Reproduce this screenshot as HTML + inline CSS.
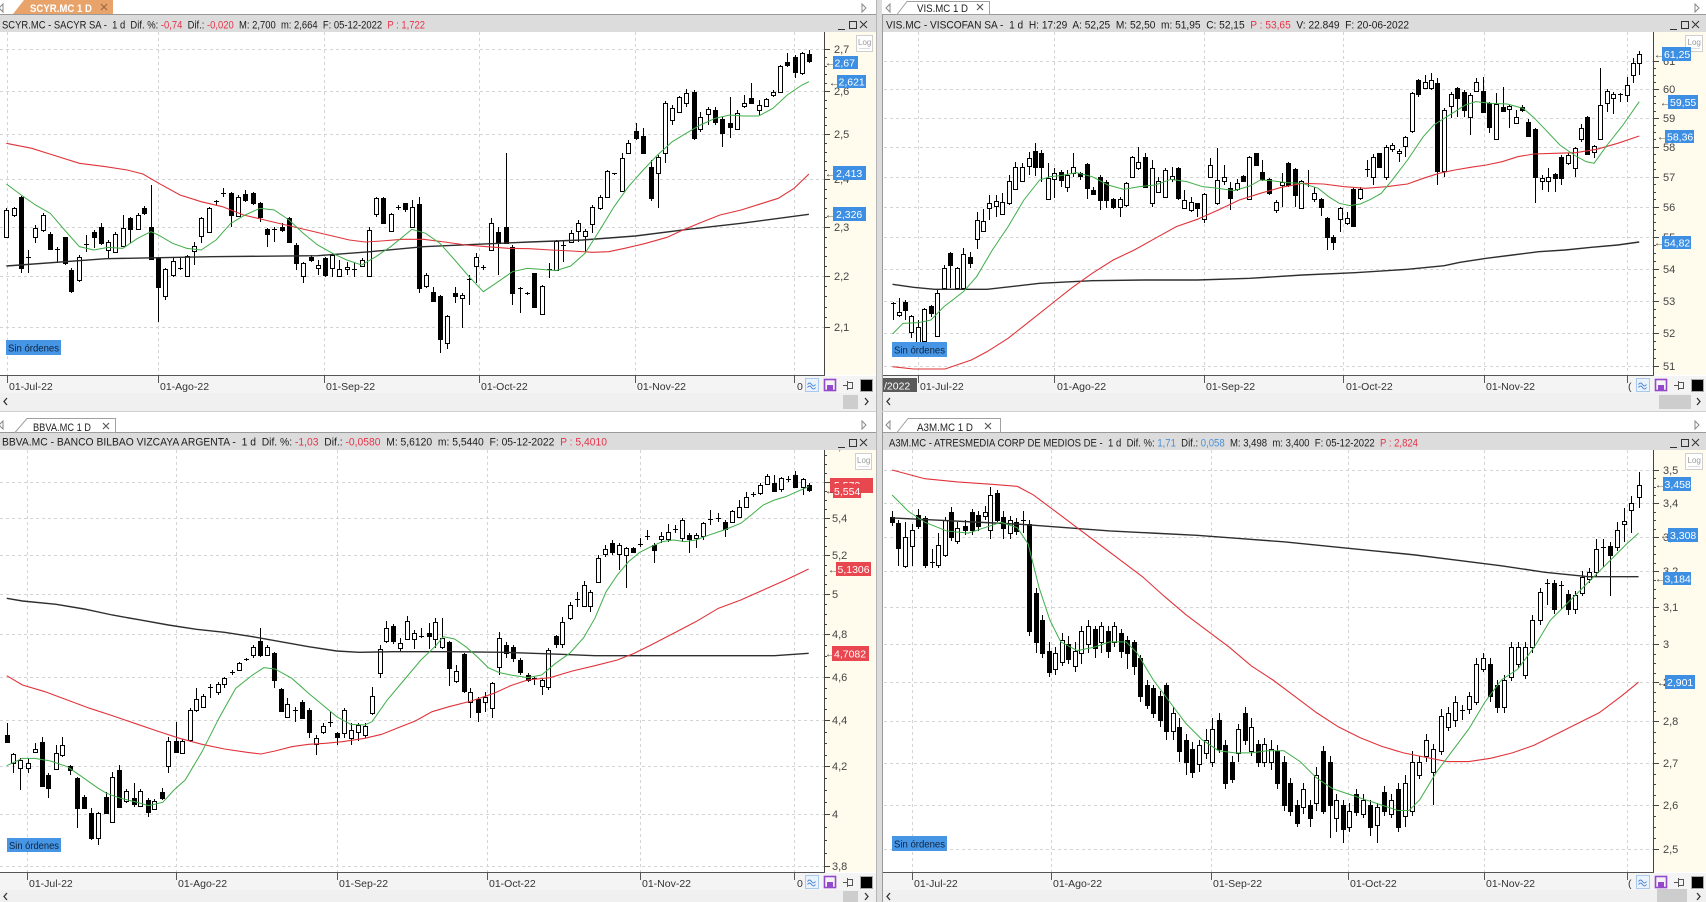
<!DOCTYPE html>
<html><head><meta charset="utf-8">
<style>
html,body{margin:0;padding:0;background:#fff;}
svg{display:block;font-family:"Liberation Sans",Arial,sans-serif;}
.t{font-size:11px;fill:#1c1c1c;white-space:pre;}
.ax{font-size:11px;fill:#444;}
.dt{font-size:10.5px;fill:#333;}
.tag{font-size:10.5px;fill:#fff;}
.arr{font-size:10px;fill:#333;}
.tab{font-size:11px;fill:#222;}
.so{font-size:10px;fill:#0f2440;}
.lg{font-size:8px;fill:#9a9a9a;}
</style></head><body>
<svg id="s" width="1706" height="902" viewBox="0 0 1706 902" xmlns="http://www.w3.org/2000/svg">
<defs>
<clipPath id="cTL"><rect x="0" y="32" width="824" height="343"/></clipPath>
<clipPath id="cTR"><rect x="884" y="32" width="769" height="343"/></clipPath>
<clipPath id="cBL"><rect x="0" y="450" width="824" height="422"/></clipPath>
<clipPath id="cBR"><rect x="884" y="450" width="769" height="422"/></clipPath>
<clipPath id="aBL"><rect x="824" y="450" width="52" height="422"/></clipPath>
</defs>
<rect x="0" y="0" width="1706" height="902" fill="#fff"/>

<!-- separator -->
<rect x="876" y="0" width="6" height="902" fill="#dcdcdc"/>
<line x1="876.5" y1="0" x2="876.5" y2="902" stroke="#b4b4b4"/>
<line x1="882.5" y1="14" x2="882.5" y2="902" stroke="#9a9a9a"/>

<!-- top tab strips -->
<line x1="0" y1="14.5" x2="876" y2="14.5" stroke="#9a9a9a"/>
<line x1="882" y1="14.5" x2="1706" y2="14.5" stroke="#9a9a9a"/>
<polygon points="13,14 24,0 113,0 113,14" fill="#e8a36b"/>
<text x="30" y="12" font-size="11" font-weight="bold" fill="#fff" textLength="62" lengthAdjust="spacingAndGlyphs">SCYR.MC 1 D</text>
<path d="M101 4l6 6M107 4l-6 6" stroke="#9c6a45" stroke-width="1.2"/>
<polygon points="897,14.5 907,1.5 989.5,1.5 989.5,14.5" fill="#fff" stroke="#a0a0a0"/>
<text x="917" y="12" class="tab" textLength="51" lengthAdjust="spacingAndGlyphs">VIS.MC 1 D</text>
<path d="M977 4l6 6M983 4l-6 6" stroke="#555" stroke-width="1.1"/>
<path d="M3 4v8l-4-4z" fill="none" stroke="#888"/>
<path d="M862 4v8l4-4z" fill="none" stroke="#888"/>
<path d="M890 4v8l-4-4z" fill="none" stroke="#888"/>
<path d="M1695 4v8l4-4z" fill="none" stroke="#888"/>

<!-- top title bars -->
<rect x="0" y="15" width="876" height="17" fill="#dcdcdc"/>
<rect x="883" y="15" width="823" height="17" fill="#dcdcdc"/>
<text x="2" y="28.5" class="t" textLength="423" lengthAdjust="spacingAndGlyphs">SCYR.MC - SACYR SA -  1 d  Dif. %: <tspan fill="#e8334a">-0,74</tspan>  Dif.: <tspan fill="#e8334a">-0,020</tspan>  M: 2,700  m: 2,664  F: 05-12-2022  <tspan fill="#e8334a">P : 1,722</tspan></text>
<text x="886" y="28.5" class="t" textLength="523" lengthAdjust="spacingAndGlyphs">VIS.MC - VISCOFAN SA -  1 d  H: 17:29  A: 52,25  M: 52,50  m: 51,95  C: 52,15  <tspan fill="#e8334a">P : 53,65</tspan>  V: 22.849  F: 20-06-2022</text>
<path d="M838 29.5h7M849.5 21.5h7v7h-7zM860 21l7 7M867 21l-7 7" stroke="#333" fill="none"/>
<path d="M1670 29.5h7M1681.5 21.5h7v7h-7zM1692 21l7 7M1699 21l-7 7" stroke="#333" fill="none"/>

<!-- bottom tab strips -->
<line x1="0" y1="411.5" x2="876" y2="411.5" stroke="#d0d0d0"/>
<line x1="882" y1="411.5" x2="1706" y2="411.5" stroke="#d0d0d0"/>
<line x1="0" y1="432.5" x2="876" y2="432.5" stroke="#9a9a9a"/>
<line x1="882" y1="432.5" x2="1706" y2="432.5" stroke="#9a9a9a"/>
<polygon points="15,432.5 27,418.5 115.5,418.5 115.5,432.5" fill="#fff" stroke="#a0a0a0"/>
<text x="33" y="431" class="tab" textLength="58" lengthAdjust="spacingAndGlyphs">BBVA.MC 1 D</text>
<path d="M103 423l6 6M109 423l-6 6" stroke="#555" stroke-width="1.1"/>
<polygon points="897,432.5 908,418.5 1000.5,418.5 1000.5,432.5" fill="#fff" stroke="#a0a0a0"/>
<text x="917" y="431" class="tab" textLength="56" lengthAdjust="spacingAndGlyphs">A3M.MC 1 D</text>
<path d="M985 423l6 6M991 423l-6 6" stroke="#555" stroke-width="1.1"/>
<path d="M3 421v8l-4-4z" fill="none" stroke="#888"/>
<path d="M862 421v8l4-4z" fill="none" stroke="#888"/>
<path d="M890 421v8l-4-4z" fill="none" stroke="#888"/>
<path d="M1695 421v8l4-4z" fill="none" stroke="#888"/>

<!-- bottom title bars -->
<rect x="0" y="433" width="876" height="17" fill="#dcdcdc"/>
<rect x="883" y="433" width="823" height="17" fill="#dcdcdc"/>
<text x="2" y="445.5" class="t" textLength="605" lengthAdjust="spacingAndGlyphs">BBVA.MC - BANCO BILBAO VIZCAYA ARGENTA -  1 d  Dif. %: <tspan fill="#e8334a">-1,03</tspan>  Dif.: <tspan fill="#e8334a">-0,0580</tspan>  M: 5,6120  m: 5,5440  F: 05-12-2022  <tspan fill="#e8334a">P : 5,4010</tspan></text>
<text x="889" y="446.5" class="t" textLength="529" lengthAdjust="spacingAndGlyphs">A3M.MC - ATRESMEDIA CORP DE MEDIOS DE -  1 d  Dif. %: <tspan fill="#4a90d9">1,71</tspan>  Dif.: <tspan fill="#4a90d9">0,058</tspan>  M: 3,498  m: 3,400  F: 05-12-2022  <tspan fill="#e8334a">P : 2,824</tspan></text>
<path d="M838 447.5h7M849.5 439.5h7v7h-7zM860 439l7 7M867 439l-7 7" stroke="#333" fill="none"/>
<path d="M1670 447.5h7M1681.5 439.5h7v7h-7zM1692 439l7 7M1699 439l-7 7" stroke="#333" fill="none"/>

<!-- axis panels -->
<rect x="824" y="32" width="52" height="343" fill="#fffbed"/>
<rect x="1653" y="32" width="53" height="343" fill="#fffbed"/>
<rect x="824" y="450" width="52" height="422" fill="#fffbed"/>
<rect x="1653" y="450" width="53" height="422" fill="#fffbed"/>

<!-- date rows & scroll rows -->
<rect x="0" y="376" width="876" height="17" fill="#f4f4f4"/>
<rect x="883" y="376" width="823" height="17" fill="#f4f4f4"/>
<rect x="0" y="393" width="876" height="18" fill="#f0f0f0"/>
<rect x="883" y="393" width="823" height="18" fill="#f0f0f0"/>
<rect x="0" y="873" width="876" height="17" fill="#f4f4f4"/>
<rect x="883" y="873" width="823" height="17" fill="#f4f4f4"/>
<rect x="0" y="890" width="876" height="12" fill="#f0f0f0"/>
<rect x="883" y="890" width="823" height="12" fill="#f0f0f0"/>
<rect x="843" y="395" width="15" height="14" fill="#cdcdcd"/>
<rect x="1659" y="395" width="32" height="14" fill="#cdcdcd"/>
<rect x="843" y="891" width="15" height="11" fill="#cdcdcd"/>
<rect x="1657" y="889" width="30" height="13" fill="#cdcdcd"/>
<path d="M7 398l-3 3.5 3 3.5" stroke="#333" fill="none" stroke-width="1.3"/>
<path d="M865 398l3 3.5-3 3.5" stroke="#333" fill="none" stroke-width="1.3"/>
<path d="M890 398l-3 3.5 3 3.5" stroke="#333" fill="none" stroke-width="1.3"/>
<path d="M1697 398l3 3.5-3 3.5" stroke="#333" fill="none" stroke-width="1.3"/>
<path d="M7 893l-3 3.5 3 3.5" stroke="#333" fill="none" stroke-width="1.3"/>
<path d="M865 893l3 3.5-3 3.5" stroke="#333" fill="none" stroke-width="1.3"/>
<path d="M890 893l-3 3.5 3 3.5" stroke="#333" fill="none" stroke-width="1.3"/>
<path d="M1697 893l3 3.5-3 3.5" stroke="#333" fill="none" stroke-width="1.3"/>

<!-- grids (JS) -->
<g id="grids"></g>

<!-- charts -->
<g clip-path="url(#cTL)">
  <g id="kTL"></g>
  <g transform="matrix(0.5294 0 0 0.33333 0 30)" fill="none">
    <polyline vector-effect="non-scaling-stroke" stroke="#2e2e2e" stroke-width="1.4" points="12,708 200,686 400,680 600,677 700,665 800,650 900,643 1000,636 1100,630 1200,618 1300,598 1400,580 1528,553"/>
    <polyline vector-effect="non-scaling-stroke" stroke="#e0333a" stroke-width="1.1" points="12,340 60,355 100,375 150,400 200,410 240,420 270,432 300,460 340,495 380,515 420,530 460,555 500,570 540,585 580,600 620,615 660,630 690,636 720,633 760,628 800,628 840,636 880,645 920,650 960,655 1000,656 1040,660 1080,663 1120,667 1150,665 1180,655 1220,640 1260,622 1290,600 1320,580 1360,555 1400,540 1440,520 1470,505 1500,475 1528,432"/>
    <polyline vector-effect="non-scaling-stroke" stroke="#3fae49" stroke-width="1" points="12,462 40,495 67,525 95,550 122,600 150,650 177,660 204,652 232,655 260,625 285,605 299,615 326,640 353,655 380,660 408,630 436,580 463,555 491,535 518,540 546,570 573,610 600,645 628,670 655,690 683,705 710,680 738,650 765,615 778,598 804,610 831,640 859,690 886,740 913,785 941,755 968,725 996,715 1023,718 1050,722 1078,708 1105,670 1133,600 1160,530 1187,470 1215,420 1242,375 1270,335 1296,310 1323,285 1351,265 1378,255 1405,258 1433,258 1460,235 1487,195 1515,165 1528,155"/>
  </g>
</g>
<g clip-path="url(#cTR)">
  <g id="kTR"></g>
  <g transform="matrix(0.5255 0 0 0.33333 882 30)" fill="none">
    <polyline vector-effect="non-scaling-stroke" stroke="#2e2e2e" stroke-width="1.4" points="20,763 60,772 100,778 200,778 300,760 400,752 500,750 600,750 700,745 800,735 900,728 1000,718 1070,707 1100,697 1150,685 1200,675 1250,665 1300,660 1350,652 1400,645 1441,636"/>
    <polyline vector-effect="non-scaling-stroke" stroke="#e0333a" stroke-width="1.1" points="20,1010 60,1017 120,1017 170,990 200,965 240,925 280,875 320,825 360,775 400,730 440,690 480,660 520,625 560,590 600,568 640,540 680,510 720,490 760,472 800,460 840,462 880,470 920,475 960,470 1000,462 1030,445 1060,430 1090,420 1120,412 1150,405 1180,395 1210,380 1240,372 1280,370 1320,368 1360,358 1400,340 1441,318"/>
    <polyline vector-effect="non-scaling-stroke" stroke="#3fae49" stroke-width="1" points="20,912 40,880 70,878 93,870 118,830 155,785 180,740 210,660 240,590 270,510 300,450 320,440 340,437 370,428 400,440 430,465 460,478 490,470 520,465 550,448 580,455 610,470 640,475 670,482 700,468 720,450 740,452 770,458 800,460 830,475 850,500 870,520 890,527 910,522 930,508 950,490 970,452 1000,390 1030,320 1050,285 1070,265 1090,245 1110,225 1130,215 1160,220 1190,222 1220,235 1240,262 1260,295 1290,345 1320,378 1340,395 1355,400 1380,345 1410,285 1441,215"/>
  </g>
</g>
<g clip-path="url(#cBL)">
  <g id="kBL"></g>
  <g transform="matrix(0.5612 0 0 0.33333 0 445)" fill="none">
    <polyline vector-effect="non-scaling-stroke" stroke="#2e2e2e" stroke-width="1.4" points="12,460 40,468 100,478 150,492 200,510 250,525 300,540 350,553 400,562 450,575 500,590 550,605 600,618 640,622 700,620 800,620 900,622 1000,628 1060,632 1200,632 1300,632 1380,632 1441,625"/>
    <polyline vector-effect="non-scaling-stroke" stroke="#e0333a" stroke-width="1.1" points="12,692 40,720 80,740 120,765 160,790 200,812 240,835 280,858 320,880 360,898 400,912 440,922 465,927 490,918 520,905 550,898 580,895 610,890 650,880 680,868 710,848 740,828 770,800 800,785 840,768 880,745 910,722 940,705 980,698 1020,678 1060,662 1100,645 1130,625 1160,600 1200,565 1240,530 1280,490 1320,465 1360,435 1400,405 1441,372"/>
    <polyline vector-effect="non-scaling-stroke" stroke="#3fae49" stroke-width="1" points="12,962 40,940 62,940 90,948 120,965 150,1000 175,1030 190,1045 215,1060 240,1070 265,1082 290,1072 310,1035 330,1005 360,920 390,820 420,730 450,690 470,668 490,672 520,700 550,745 575,780 600,815 625,838 650,840 663,830 690,765 720,705 750,645 775,605 790,575 810,582 830,605 850,635 870,668 890,683 910,690 940,698 965,690 990,655 1015,625 1040,578 1060,520 1080,440 1100,390 1120,350 1140,322 1160,305 1180,290 1200,285 1220,290 1240,285 1260,272 1290,255 1320,235 1340,208 1360,180 1380,165 1400,155 1420,140 1441,125"/>
  </g>
</g>
<g clip-path="url(#cBR)">
  <g id="kBR"></g>
  <g transform="matrix(1.088 0 0 1.088 0 0)" fill="none">
    <polyline vector-effect="non-scaling-stroke" stroke="#2e2e2e" stroke-width="1.4" points="820,476 860,478 900,480 940,482 980,485 1020,488 1060,490 1100,492 1140,495 1180,498 1220,502 1260,506 1300,510 1340,515 1380,520 1420,526 1460,530 1506,530"/>
    <polyline vector-effect="non-scaling-stroke" stroke="#e0333a" stroke-width="1.1" points="820,432 850,440 880,443 910,445 935,447 950,455 970,470 990,485 1010,500 1030,515 1050,530 1070,548 1090,565 1110,580 1130,595 1150,612 1170,625 1190,640 1210,655 1230,668 1250,678 1270,686 1290,692 1310,696 1330,700 1350,700 1370,697 1390,692 1410,685 1430,675 1450,665 1470,655 1490,640 1506,627"/>
    <polyline vector-effect="non-scaling-stroke" stroke="#3fae49" stroke-width="1" points="820,455 835,470 850,480 870,488 890,490 905,485 920,480 935,485 945,500 955,540 965,570 975,590 990,598 1005,595 1020,590 1035,590 1045,600 1060,625 1075,645 1090,665 1105,680 1120,690 1135,692 1150,692 1165,690 1180,690 1195,700 1210,715 1225,725 1240,730 1255,735 1270,740 1285,745 1295,745 1305,735 1320,710 1335,690 1350,670 1365,645 1380,625 1395,615 1410,595 1425,570 1440,555 1455,540 1470,525 1485,510 1495,500 1506,490"/>
  </g>
</g>

<!-- axis ticks (JS) -->
<g id="ticks"></g>

<!-- axis lines -->
<line x1="824.5" y1="32" x2="824.5" y2="376" stroke="#444"/>
<line x1="1653.5" y1="32" x2="1653.5" y2="376" stroke="#444"/>
<line x1="824.5" y1="450" x2="824.5" y2="873" stroke="#444"/>
<line x1="1653.5" y1="450" x2="1653.5" y2="873" stroke="#444"/>
<line x1="0" y1="375.5" x2="825" y2="375.5" stroke="#555"/>
<line x1="883" y1="375.5" x2="1654" y2="375.5" stroke="#555"/>
<line x1="0" y1="872.5" x2="825" y2="872.5" stroke="#555"/>
<line x1="883" y1="872.5" x2="1654" y2="872.5" stroke="#555"/>

<!-- y labels -->
<g class="ax">
<text x="834" y="53">2,7</text><text x="834" y="95">2,6</text><text x="834" y="138">2,5</text><text x="834" y="183">2,4</text><text x="834" y="231">2,3</text><text x="834" y="280">2,2</text><text x="834" y="331">2,1</text>
<text x="1663" y="65">61</text><text x="1663" y="93">60</text><text x="1663" y="122">59</text><text x="1663" y="151">58</text><text x="1663" y="181">57</text><text x="1663" y="211">56</text><text x="1663" y="241">55</text><text x="1663" y="273">54</text><text x="1663" y="305">53</text><text x="1663" y="337">52</text><text x="1663" y="370">51</text>
<g clip-path="url(#aBL)"><text x="832" y="450">5,8</text></g>
<text x="832" y="486">5,6</text><text x="832" y="522">5,4</text><text x="832" y="559">5,2</text><text x="832" y="598">5</text><text x="832" y="638">4,8</text><text x="832" y="681">4,6</text><text x="832" y="724">4,4</text><text x="832" y="770">4,2</text><text x="832" y="818">4</text><text x="832" y="870">3,8</text>
<text x="1663" y="474">3,5</text><text x="1663" y="507">3,4</text><text x="1663" y="541">3,3</text><text x="1663" y="575">3,2</text><text x="1663" y="611">3,1</text><text x="1663" y="648">3</text><text x="1663" y="686">2,9</text><text x="1663" y="725">2,8</text><text x="1663" y="767">2,7</text><text x="1663" y="809">2,6</text><text x="1663" y="853">2,5</text>
</g>

<!-- Log buttons -->
<g>
<rect x="856.5" y="35.5" width="16" height="16" fill="#fff" stroke="#cfcfcf"/><text x="858" y="45" class="lg">Log</text><line x1="859" y1="48.5" x2="870" y2="48.5" stroke="#ddd"/>
<rect x="1685.5" y="35.5" width="17" height="16" fill="#fff" stroke="#cfcfcf"/><text x="1687.5" y="45" class="lg">Log</text><line x1="1688" y1="48.5" x2="1700" y2="48.5" stroke="#ddd"/>
<rect x="855.5" y="453.5" width="16" height="16" fill="#fff" stroke="#cfcfcf"/><text x="857" y="463" class="lg">Log</text><line x1="858" y1="466.5" x2="869" y2="466.5" stroke="#ddd"/>
<rect x="1685.5" y="453.5" width="17" height="16" fill="#fff" stroke="#cfcfcf"/><text x="1687.5" y="463" class="lg">Log</text><line x1="1688" y1="466.5" x2="1700" y2="466.5" stroke="#ddd"/>
</g>

<!-- price tags -->
<g>
<text x="825" y="66" class="arr">←</text><rect x="833" y="56" width="25" height="13" fill="#3d8fe3"/><text x="834.5" y="66.5" class="tag">2,67</text>
<text x="829" y="86" class="arr">←</text><rect x="837" y="75" width="29" height="13" fill="#3d8fe3"/><text x="838.5" y="85.5" class="tag">2,621</text>
<text x="825" y="177" class="arr">←</text><rect x="833" y="166" width="33" height="14" fill="#3d8fe3"/><text x="836" y="177" class="tag">2,413</text>
<text x="825" y="218" class="arr">←</text><rect x="833" y="207" width="33" height="14" fill="#3d8fe3"/><text x="836" y="218" class="tag">2,326</text>

<text x="1654" y="58" class="arr">←</text><rect x="1662" y="47" width="29" height="14" fill="#3d8fe3"/><text x="1664" y="58" class="tag">61,25</text>
<text x="1660" y="106" class="arr">←</text><rect x="1668" y="95" width="30" height="14" fill="#3d8fe3"/><text x="1670" y="106" class="tag">59,55</text>
<text x="1657" y="140" class="arr">←</text><rect x="1665" y="130" width="29" height="13" fill="#3d8fe3"/><text x="1667" y="140.5" class="tag">58,36</text>
<text x="1654" y="246" class="arr">←</text><rect x="1662" y="236" width="29" height="13" fill="#3d8fe3"/><text x="1664" y="246.5" class="tag">54,82</text>

<rect x="830" y="478" width="43" height="15" fill="#e8474f"/><text x="834" y="489" class="tag">5,573</text>
<text x="825" y="494" class="arr">←</text><rect x="833" y="484" width="28" height="14" fill="#e8474f"/><text x="834" y="495" class="tag">5,554</text>
<text x="828" y="573" class="arr">←</text><rect x="836" y="562" width="35" height="14" fill="#e8474f"/><text x="837.5" y="573" class="tag">5,1306</text>
<text x="825" y="657" class="arr">←</text><rect x="832" y="646" width="37" height="15" fill="#e8474f"/><text x="834" y="657.5" class="tag">4,7082</text>

<text x="1655" y="488" class="arr">←</text><rect x="1663" y="477" width="28" height="14" fill="#3d8fe3"/><text x="1664.5" y="488" class="tag">3,458</text>
<text x="1660" y="539" class="arr">←</text><rect x="1668" y="528" width="30" height="14" fill="#3d8fe3"/><text x="1670" y="539" class="tag">3,308</text>
<text x="1655" y="582" class="arr">←</text><rect x="1663" y="572" width="28" height="13" fill="#3d8fe3"/><text x="1664.5" y="582.5" class="tag">3,184</text>
<text x="1657" y="686" class="arr">←</text><rect x="1665" y="675" width="30" height="14" fill="#3d8fe3"/><text x="1667" y="686" class="tag">2,901</text>
</g>

<!-- Sin órdenes badges -->
<rect x="6" y="340" width="55" height="15" fill="#4696e5"/><text x="8" y="351.5" class="so" textLength="51" lengthAdjust="spacingAndGlyphs">Sin órdenes</text>
<rect x="892" y="342" width="55" height="15" fill="#4696e5"/><text x="894" y="353.5" class="so" textLength="51" lengthAdjust="spacingAndGlyphs">Sin órdenes</text>
<rect x="7" y="838" width="54" height="14" fill="#4696e5"/><text x="9" y="849" class="so" textLength="50" lengthAdjust="spacingAndGlyphs">Sin órdenes</text>
<rect x="892" y="836" width="55" height="15" fill="#4696e5"/><text x="894" y="847.5" class="so" textLength="51" lengthAdjust="spacingAndGlyphs">Sin órdenes</text>

<!-- date labels -->
<g class="dt">
<text x="9" y="390">01-Jul-22</text><text x="160" y="390">01-Ago-22</text><text x="326" y="390">01-Sep-22</text><text x="481" y="390">01-Oct-22</text><text x="637" y="390">01-Nov-22</text>
<rect x="883" y="378" width="34" height="14" fill="#5a5a5a"/><text x="884" y="389.5" fill="#fff" style="fill:#fff">/2022</text>
<text x="920" y="390">01-Jul-22</text><text x="1057" y="390">01-Ago-22</text><text x="1206" y="390">01-Sep-22</text><text x="1346" y="390">01-Oct-22</text><text x="1486" y="390">01-Nov-22</text>
<text x="29" y="887">01-Jul-22</text><text x="178" y="887">01-Ago-22</text><text x="339" y="887">01-Sep-22</text><text x="489" y="887">01-Oct-22</text><text x="642" y="887">01-Nov-22</text>
<text x="914" y="887">01-Jul-22</text><text x="1053" y="887">01-Ago-22</text><text x="1213" y="887">01-Sep-22</text><text x="1350" y="887">01-Oct-22</text><text x="1486" y="887">01-Nov-22</text>
</g>

<!-- bottom-right icons -->
<g transform="translate(797,378)">
<text x="0" y="12" class="dt">0</text>
<rect x="8.5" y="0.5" width="13" height="13" fill="#eaf3fd" stroke="#a8c8ec"/>
<path d="M10.5 6.5q2-3 4 0t4 0M10.5 9.5q2-3 4 0t4 0" stroke="#4d86cf" fill="none"/>
<rect x="27.5" y="1.5" width="11" height="11" fill="none" stroke="#9448cc" stroke-width="1.6"/><rect x="30" y="7" width="6" height="5" fill="#9448cc"/>
<path d="M46 7.5h4M50.5 3v9M50.5 4.5h5v6h-5" stroke="#555" fill="none"/>
<rect x="63.5" y="1.5" width="12" height="12" fill="#000" stroke="#aaa"/>
</g>
<g transform="translate(1628,378)">
<text x="0" y="12" class="dt">(</text>
<rect x="8.5" y="0.5" width="13" height="13" fill="#eaf3fd" stroke="#a8c8ec"/>
<path d="M10.5 6.5q2-3 4 0t4 0M10.5 9.5q2-3 4 0t4 0" stroke="#4d86cf" fill="none"/>
<rect x="27.5" y="1.5" width="11" height="11" fill="none" stroke="#9448cc" stroke-width="1.6"/><rect x="30" y="7" width="6" height="5" fill="#9448cc"/>
<path d="M46 7.5h4M50.5 3v9M50.5 4.5h5v6h-5" stroke="#555" fill="none"/>
<rect x="63.5" y="1.5" width="12" height="12" fill="#000" stroke="#aaa"/>
</g>
<g transform="translate(797,875)">
<text x="0" y="12" class="dt">0</text>
<rect x="8.5" y="0.5" width="13" height="13" fill="#eaf3fd" stroke="#a8c8ec"/>
<path d="M10.5 6.5q2-3 4 0t4 0M10.5 9.5q2-3 4 0t4 0" stroke="#4d86cf" fill="none"/>
<rect x="27.5" y="1.5" width="11" height="11" fill="none" stroke="#9448cc" stroke-width="1.6"/><rect x="30" y="7" width="6" height="5" fill="#9448cc"/>
<path d="M46 7.5h4M50.5 3v9M50.5 4.5h5v6h-5" stroke="#555" fill="none"/>
<rect x="63.5" y="1.5" width="12" height="12" fill="#000" stroke="#aaa"/>
</g>
<g transform="translate(1628,875)">
<text x="0" y="12" class="dt">(</text>
<rect x="8.5" y="0.5" width="13" height="13" fill="#eaf3fd" stroke="#a8c8ec"/>
<path d="M10.5 6.5q2-3 4 0t4 0M10.5 9.5q2-3 4 0t4 0" stroke="#4d86cf" fill="none"/>
<rect x="27.5" y="1.5" width="11" height="11" fill="none" stroke="#9448cc" stroke-width="1.6"/><rect x="30" y="7" width="6" height="5" fill="#9448cc"/>
<path d="M46 7.5h4M50.5 3v9M50.5 4.5h5v6h-5" stroke="#555" fill="none"/>
<rect x="63.5" y="1.5" width="12" height="12" fill="#000" stroke="#aaa"/>
</g>
</svg>
<script>
(function(){
var C={
TL:{fx:function(x){return x*0.5294;},fy:function(y){return 30+y/3;},d:[
[12,540,620,535,625,0],[26,535,555,530,560,0],[40,500,715,498,730,1],[53,681,685,660,730,2],[67,595,622,585,640,0],[81,555,600,550,605,0],[95,612,657,605,660,1],[108,658,662,650,700,2],[122,622,700,620,705,1],[135,720,782,715,790,1],[149,680,750,675,755,0],[163,643,647,615,665,2],[177,605,620,600,655,1],[190,590,640,580,645,1],[204,635,660,630,685,0],[218,612,665,605,670,0],[232,595,648,555,650,0],[246,565,598,560,640,1],[260,555,598,550,600,0],[272,533,550,528,555,1],[285,590,688,465,690,1],[299,683,772,680,875,1],[312,718,798,715,810,0],[326,692,735,680,740,0],[340,713,717,685,720,2],[353,678,738,675,740,0],[367,648,662,635,705,0],[380,565,618,560,640,0],[394,533,605,530,610,0],[408,513,517,510,525,2],[422,488,492,475,500,2],[436,490,555,485,590,1],[449,500,557,495,560,0],[463,492,510,480,515,1],[477,488,520,485,525,1],[491,520,560,517,575,1],[505,597,612,595,650,1],[518,598,602,590,635,2],[532,590,600,580,605,1],[546,565,635,560,640,1],[559,645,700,640,720,1],[573,698,738,695,760,0],[587,680,690,675,695,1],[600,705,715,690,735,0],[614,685,735,680,740,1],[628,675,715,670,740,0],[641,718,738,690,740,0],[655,710,718,695,735,0],[669,716,720,700,740,2],[683,690,708,685,710,0],[697,600,738,590,740,0],[710,503,553,500,560,0],[724,503,578,500,580,1],[738,553,602,550,605,0],[751,530,534,525,540,2],[765,520,538,518,545,1],[778,532,590,510,595,0],[791,522,775,500,790,1],[804,735,768,730,775,0],[818,785,812,770,815,1],[831,797,928,795,968,1],[845,858,938,855,958,0],[859,790,797,770,820,1],[872,795,803,790,895,0],[886,746,750,735,825,2],[900,680,708,670,760,0],[913,711,715,705,720,2],[927,578,660,565,662,0],[941,605,640,592,735,1],[955,592,638,370,640,1],[968,650,788,645,825,1],[982,773,777,770,850,2],[996,788,792,785,795,2],[1009,730,830,728,835,1],[1023,768,852,765,855,0],[1037,718,722,700,745,2],[1050,632,720,630,722,0],[1064,646,650,630,695,2],[1078,608,635,600,640,0],[1092,578,602,570,635,0],[1105,602,618,598,665,0],[1119,530,582,525,610,0],[1133,500,535,495,540,0],[1146,422,500,420,505,0],[1160,430,434,428,436,2],[1174,385,482,370,485,0],[1187,338,368,330,372,0],[1201,302,325,280,330,1],[1215,318,368,295,372,1],[1229,412,505,390,512,1],[1242,382,430,375,535,0],[1256,218,368,212,400,0],[1270,235,270,225,285,0],[1283,202,245,198,248,0],[1296,190,218,178,230,0],[1310,185,325,180,330,1],[1323,262,298,245,305,0],[1337,238,252,232,285,0],[1351,240,275,232,285,1],[1364,268,310,262,350,1],[1378,278,292,200,325,1],[1392,248,298,240,300,0],[1405,220,228,195,235,0],[1419,205,218,160,220,1],[1433,225,240,210,255,0],[1446,208,228,205,232,0],[1460,185,195,180,200,0],[1474,108,185,105,188,0],[1487,95,105,68,110,1],[1501,82,125,75,145,1],[1515,70,130,65,135,0],[1528,72,92,60,100,1]]},
TR:{fx:function(x){return 882+x*0.5255;},fy:function(y){return 30+y/3;},d:[
[20,818,822,815,870,2],[32,845,855,805,860,0],[44,815,840,810,870,1],[56,858,905,855,925,0],[68,890,935,870,940,0],[80,838,932,835,935,0],[93,828,848,825,860,1],[105,790,918,778,920,0],[118,715,775,705,778,0],[130,668,705,665,775,1],[142,715,775,710,778,0],[155,672,775,655,778,0],[167,680,700,665,715,1],[180,570,628,545,658,0],[192,572,602,538,605,0],[204,520,535,495,570,0],[217,512,528,495,560,0],[229,515,552,490,555,0],[242,452,520,435,525,0],[254,410,478,395,480,0],[266,412,452,400,455,0],[279,385,408,365,435,0],[291,362,410,340,438,1],[303,368,412,360,455,1],[316,445,508,400,510,0],[328,430,448,415,505,0],[340,425,450,420,470,1],[352,435,470,420,485,0],[364,412,430,370,440,0],[377,430,438,425,450,1],[390,402,475,400,508,1],[402,480,492,470,495,1],[414,440,510,435,540,1],[427,455,510,450,535,1],[439,508,532,505,538,1],[452,508,532,500,560,0],[464,460,525,455,530,0],[476,382,440,378,445,0],[488,395,415,350,420,0],[500,380,472,370,475,1],[513,415,520,390,530,0],[525,452,485,440,490,0],[539,420,502,415,505,0],[551,438,448,410,455,0],[563,415,505,410,510,1],[575,510,535,480,538,0],[588,515,540,500,545,0],[600,520,535,518,560,1],[612,492,568,488,578,0],[625,405,442,385,445,0],[637,450,520,355,525,0],[650,440,452,405,465,0],[662,475,505,455,540,1],[675,458,478,448,482,0],[687,438,452,435,455,1],[699,380,508,378,510,0],[711,370,405,368,408,1],[723,425,448,390,452,1],[736,448,490,445,495,1],[749,515,540,510,548,0],[761,455,465,430,530,0],[773,400,465,395,470,1],[786,418,495,415,530,1],[798,452,535,450,538,0],[810,458,462,420,470,2],[822,488,508,470,515,0],[835,508,530,505,558,1],[847,565,620,560,660,1],[859,620,635,615,660,1],[872,535,568,530,605,0],[884,565,580,545,585,0],[897,478,588,475,590,1],[909,478,505,470,510,0],[922,416,420,390,440,2],[934,380,440,372,465,0],[946,370,410,368,412,1],[959,352,442,345,450,0],[971,345,358,340,365,0],[984,362,368,358,395,0],[996,322,348,318,380,0],[1008,188,302,185,308,0],[1020,150,192,148,200,1],[1033,155,175,135,178,0],[1045,150,175,128,180,0],[1057,158,422,145,465,1],[1069,240,422,235,440,0],[1082,192,228,185,265,0],[1094,175,205,172,260,1],[1107,185,240,180,260,1],[1119,195,262,190,315,0],[1131,155,182,145,185,0],[1144,182,245,140,250,1],[1156,218,290,215,310,1],[1169,222,328,190,330,0],[1181,230,242,170,245,1],[1193,228,238,225,295,0],[1206,262,278,240,282,0],[1218,230,240,225,245,1],[1230,275,318,268,320,1],[1243,298,440,295,520,1],[1255,445,452,435,480,0],[1268,440,452,415,485,0],[1280,432,445,428,485,1],[1292,380,445,375,465,1],[1305,375,400,368,405,0],[1318,355,415,350,440,0],[1330,295,328,282,335,0],[1342,262,372,258,375,1],[1355,348,365,345,385,0],[1367,225,328,115,330,0],[1379,182,218,178,245,0],[1392,192,205,185,252,0],[1404,193,197,190,215,2],[1417,165,195,140,215,0],[1429,98,135,85,160,0],[1441,72,98,62,135,0]]},
BL:{fx:function(x){return x*0.5612;},fy:function(y){return 445+y/3;},d:[
[12,870,892,835,895,1],[24,928,955,925,985,0],[36,945,970,940,1035,0],[50,955,970,940,985,0],[62,913,920,895,925,0],[74,890,1022,875,1025,1],[86,990,1030,985,1060,1],[99,925,972,900,975,0],[111,900,930,875,935,0],[124,963,975,960,990,1],[138,1000,1088,995,1150,1],[150,1055,1088,1050,1090,1],[162,1105,1180,1090,1185,1],[175,1105,1180,1100,1200,0],[188,1055,1105,1040,1108,1],[200,995,1130,980,1135,0],[212,975,1085,960,1088,1],[225,1038,1068,1032,1075,0],[238,1060,1078,1015,1085,1],[250,1038,1082,1032,1085,0],[263,1065,1100,1060,1115,1],[275,1068,1092,1062,1095,0],[288,1042,1060,1030,1065,1],[300,887,962,875,985,0],[313,887,920,830,925,1],[325,887,925,882,928,0],[338,795,885,790,890,0],[350,762,795,730,800,0],[362,753,785,748,790,0],[375,726,730,718,760,2],[388,718,740,712,750,0],[400,700,718,695,730,0],[413,681,685,675,690,2],[425,655,675,650,678,0],[438,641,645,640,648,2],[450,605,630,600,640,0],[463,588,630,550,635,1],[475,605,630,600,632,0],[488,625,705,620,730,1],[500,732,798,728,800,1],[512,778,815,760,820,0],[525,796,800,785,830,2],[538,770,818,765,822,1],[550,795,862,790,878,1],[563,878,898,870,930,0],[575,843,860,835,868,0],[588,831,835,800,845,2],[600,865,875,860,900,1],[613,795,865,790,878,0],[625,855,880,835,900,0],[638,840,860,835,888,0],[650,842,870,835,880,0],[663,752,805,725,810,0],[677,612,685,600,700,0],[688,548,588,528,595,0],[700,542,588,538,598,1],[713,595,610,580,620,0],[726,528,582,512,585,0],[738,565,582,555,612,0],[751,573,577,550,580,2],[764,565,572,535,612,1],[776,530,582,520,610,0],[788,580,605,520,612,0],[800,592,668,588,722,1],[813,678,708,660,715,0],[826,628,738,625,745,1],[838,740,770,730,818,0],[851,762,800,755,830,1],[864,755,770,740,800,0],[877,715,790,712,820,0],[890,580,665,560,690,0],[902,600,625,590,640,1],[915,605,640,600,650,1],[927,645,680,640,690,1],[940,690,705,685,710,1],[952,698,702,695,720,2],[965,705,722,698,750,0],[977,615,725,608,735,0],[990,572,597,570,608,1],[1002,532,598,515,610,0],[1015,480,520,470,525,0],[1028,463,467,440,485,2],[1041,420,482,408,485,0],[1052,440,482,435,500,0],[1065,338,412,330,415,0],[1078,312,328,300,335,0],[1090,295,322,285,330,1],[1103,300,328,295,375,0],[1115,310,330,305,430,0],[1128,310,322,305,325,1],[1140,298,302,280,305,2],[1153,273,277,255,285,2],[1166,300,315,295,355,1],[1178,272,282,260,295,0],[1191,260,282,238,290,0],[1203,253,257,240,265,2],[1216,225,280,220,290,0],[1228,270,282,265,325,1],[1241,270,280,265,310,0],[1253,235,272,230,285,0],[1266,223,227,195,240,2],[1279,220,224,205,230,2],[1292,230,252,225,275,1],[1304,198,230,195,235,0],[1317,185,215,165,218,0],[1329,155,185,140,190,0],[1341,148,152,140,155,2],[1354,120,145,115,150,0],[1367,92,118,88,120,0],[1380,115,138,90,140,1],[1392,100,132,95,140,0],[1405,103,107,92,110,2],[1417,90,125,78,128,1],[1430,103,125,100,150,0],[1441,120,135,115,140,1]]},
BR:{fx:function(x){return x*1.088;},fy:function(y){return y*1.088;},d:[
[820,475,480,470,483,1],[825,481,504,478,520,1],[832,494,520,480,522,0],[838,487,502,482,520,0],[844,473,483,468,486,1],[850,476,519,474,522,1],[857,517,519,505,522,2],[862,501,519,490,522,0],[869,478,510,475,512,0],[874,471,494,466,497,1],[880,485,497,480,500,0],[887,483,487,478,492,1],[893,471,487,468,492,1],[899,473,483,470,488,1],[905,471,474,465,478,0],[910,455,487,448,495,0],[916,453,478,450,480,1],[922,475,485,470,495,1],[928,478,490,474,495,0],[934,480,488,476,492,1],[940,478,482,470,490,2],[946,482,580,478,585,1],[952,545,590,540,600,1],[958,570,600,565,605,1],[964,598,618,590,622,1],[970,600,615,595,620,0],[976,588,608,582,612,0],[982,592,606,585,610,1],[988,598,612,590,618,0],[994,580,600,575,610,0],[1000,575,592,570,600,0],[1006,578,596,575,605,1],[1012,575,590,572,600,0],[1018,580,598,575,605,1],[1024,575,590,572,595,0],[1030,582,598,578,605,1],[1036,588,600,585,615,1],[1042,590,612,588,620,1],[1048,605,640,602,645,1],[1054,630,648,625,652,1],[1060,632,655,630,660,1],[1066,640,662,635,668,1],[1072,630,672,628,680,1],[1078,655,672,650,680,0],[1084,668,690,660,700,1],[1090,680,700,675,712,1],[1096,688,710,682,715,1],[1102,685,702,680,710,0],[1108,680,692,670,698,0],[1114,670,700,660,705,0],[1120,662,688,655,692,1],[1126,685,720,680,725,1],[1132,700,716,695,720,1],[1138,670,692,665,700,0],[1144,655,680,650,685,1],[1150,668,690,660,695,0],[1156,684,700,680,705,1],[1162,684,700,678,705,0],[1168,688,700,680,708,0],[1174,690,720,685,725,1],[1180,700,740,695,745,1],[1186,720,745,715,750,1],[1192,740,756,735,760,1],[1198,725,742,720,748,0],[1204,740,752,735,760,1],[1210,712,738,705,745,0],[1216,690,745,686,748,1],[1222,700,740,695,770,1],[1228,735,752,730,765,0],[1234,740,762,735,775,1],[1240,745,760,738,765,0],
[1246,730,746,725,750,1],[1252.5,735,748,730,752,0],[1259,740,760,735,768,1],[1265.5,742,758,738,775,0],[1272,728,745,722,750,1],[1278.5,735,748,730,752,0],[1285,725,760,720,765,1],[1291.5,720,750,712,760,0],[1298,700,745,690,750,0],[1304.5,700,712,695,716,0],[1311,680,695,675,700,0],[1317.5,688,710,684,740,0],[1324,658,690,652,694,0],[1330.5,655,668,650,672,0],[1337,645,662,640,668,0],[1343.5,653,657,648,662,2],[1350,640,652,636,656,0],[1356.5,610,645,605,648,0],[1363,605,615,600,618,0],[1369.5,610,640,605,645,1],[1376,630,650,625,655,1],[1382.5,625,650,620,655,0],[1389,595,622,590,626,0],[1395.5,595,610,590,614,0],[1402,595,620,590,624,0],[1408.5,570,595,565,600,0],[1415,544,570,540,574,0],[1421.5,536,540,532,556,2],[1428,536,560,533,564,1],[1434.5,538,542,534,560,2],[1441,546,560,542,565,1],[1447.5,547,560,543,564,0],[1454,530,545,525,548,0],[1460.5,526,532,522,536,0],[1467,505,526,495,530,0],[1473.5,503,507,495,521,2],[1480,502,510,498,548,1],[1486.5,487,503,480,506,0],[1493,479,482,467,498,0],[1499.5,462,469,456,490,0],[1506,446,457,434,467,0]]}
};
for(var k in C){
  var c=C[k],s='';
  for(var i=0;i<c.d.length;i++){
    var d=c.d[i];
    var cx=Math.round(c.fx(d[0]));
    var H=Math.round(c.fy(d[3])),L=Math.round(c.fy(d[4]));
    var T=Math.round(c.fy(d[1])),B=Math.round(c.fy(d[2]));
    s+='<line x1="'+(cx+0.5)+'" y1="'+H+'" x2="'+(cx+0.5)+'" y2="'+L+'" stroke="#000"/>';
    if(d[5]==2||B-T<1){
      s+='<line x1="'+(cx-2)+'" y1="'+(T+0.5)+'" x2="'+(cx+3)+'" y2="'+(T+0.5)+'" stroke="#000"/>';
    }else{
      s+='<rect x="'+(cx-1.5)+'" y="'+(T+0.5)+'" width="4" height="'+(B-T)+'" fill="'+(d[5]?'#000':'#fff')+'" stroke="#000"/>';
    }
  }
  document.getElementById('k'+k).innerHTML=s;
}
var G=[
 {x0:0,x1:824,y0:32,y1:375,ax:824,st:0.02,L:[[2.7,49],[2.6,91],[2.5,134],[2.4,179],[2.3,227],[2.2,276],[2.1,327]],M:[6.5,158,324,479,635,794]},
 {x0:884,x1:1653,y0:32,y1:375,ax:1653,st:0.25,L:[[61,60.7],[60,89],[59,117.7],[58,146.7],[57,176.7],[56,206.7],[55,237.3],[54,269],[53,300.7],[52,332.7],[51,366]],M:[917.7,1054.4,1203.6,1343.4,1483.7,1627]},
 {x0:0,x1:824,y0:450,y1:872,ax:824,st:0.05,L:[[5.8,446],[5.6,482],[5.4,517.7],[5.2,555],[5,594.3],[4.8,634.3],[4.6,676.7],[4.4,720],[4.2,766],[4,814],[3.8,865.7]],M:[27,175.6,336.7,487,640,794]},
 {x0:884,x1:1653,y0:450,y1:872,ax:1653,st:0.025,L:[[3.5,470],[3.4,503],[3.3,537],[3.2,571],[3.1,607],[3,644],[2.9,682],[2.8,721],[2.7,763],[2.6,805],[2.5,849]],M:[912,1051,1211,1348,1484,1627]}
];
var gs='',ts='';
for(var j=0;j<G.length;j++){
  var g=G[j];
  for(var a=0;a<g.L.length;a++){
    var y=Math.round(g.L[a][1])+0.5;
    if(y>g.y0&&y<g.y1) gs+='<line x1="'+g.x0+'" y1="'+y+'" x2="'+g.x1+'" y2="'+y+'" stroke="#d4d4d4" stroke-dasharray="3,3"/>';
  }
  for(var m=0;m<g.M.length;m++){
    var x=Math.round(g.M[m])+0.5;
    gs+='<line x1="'+x+'" y1="'+g.y0+'" x2="'+x+'" y2="'+g.y1+'" stroke="#d4d4d4" stroke-dasharray="3,3"/>';
    ts+='<line x1="'+x+'" y1="'+(g.y1+1)+'" x2="'+x+'" y2="'+(g.y1+8)+'" stroke="#555"/>';
  }
  for(var a=0;a<g.L.length-1;a++){
    var p1=g.L[a][0],y1=g.L[a][1],p2=g.L[a+1][0],y2=g.L[a+1][1];
    var n=Math.round((p1-p2)/g.st);
    for(var q=0;q<n;q++){
      var yy=Math.round(y1+q*(y2-y1)/n)+0.5;
      if(yy<g.y0||yy>g.y1) continue;
      var len=q==0?6:3;
      ts+='<line x1="'+g.ax+'" y1="'+yy+'" x2="'+(g.ax+len)+'" y2="'+yy+'" stroke="#444"/>';
    }
  }
  var ly=Math.round(g.L[g.L.length-1][1])+0.5;
  if(ly<g.y1) ts+='<line x1="'+g.ax+'" y1="'+ly+'" x2="'+(g.ax+6)+'" y2="'+ly+'" stroke="#444"/>';
}
document.getElementById('grids').innerHTML=gs;
document.getElementById('ticks').innerHTML=ts;
})();
</script>
</body></html>
